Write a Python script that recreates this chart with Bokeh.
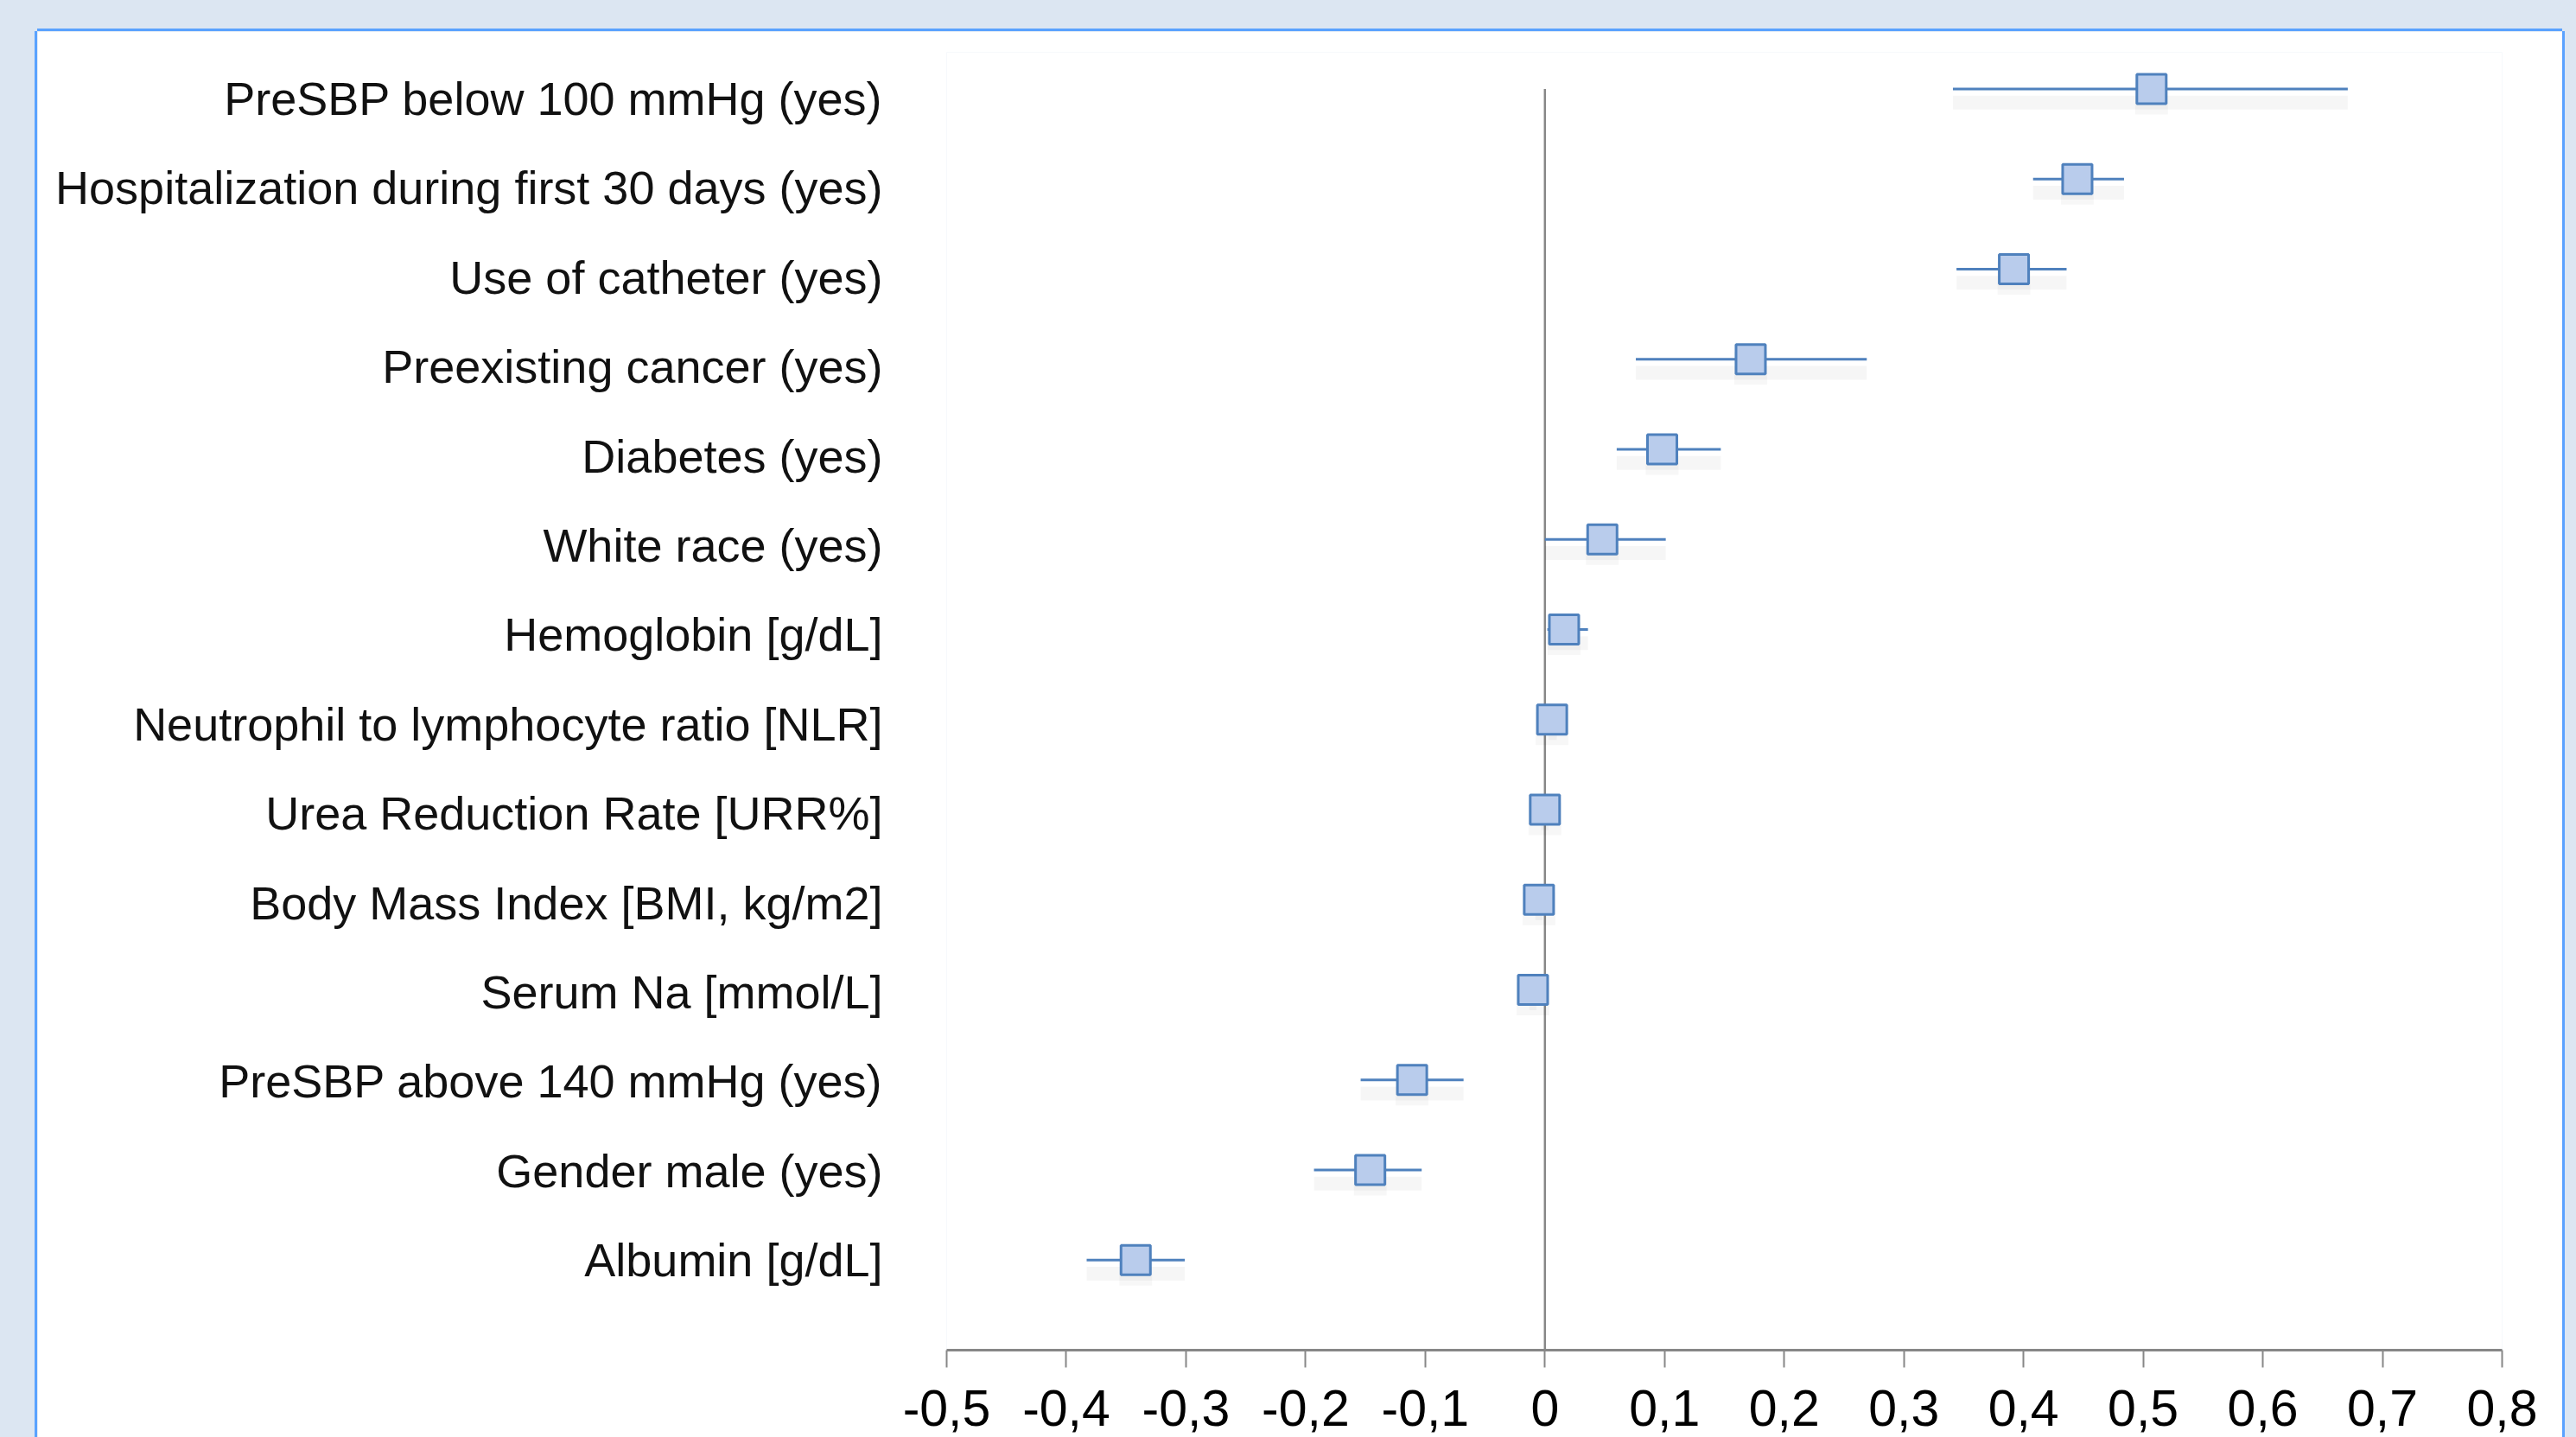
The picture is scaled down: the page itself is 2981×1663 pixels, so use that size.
from bokeh.plotting import figure
from bokeh.models import Range1d, FixedTicker
from bokeh.layouts import column
from bokeh.embed import file_html
from bokeh.resources import INLINE

# ---- data (top row first) ----
categories = [
    "PreSBP below 100 mmHg (yes)",
    "Hospitalization during first 30 days (yes)",
    "Use of catheter (yes)",
    "Preexisting cancer (yes)",
    "Diabetes (yes)",
    "White race (yes)",
    "Hemoglobin [g/dL]",
    "Neutrophil to lymphocyte ratio [NLR]",
    "Urea Reduction Rate [URR%]",
    "Body Mass Index [BMI, kg/m2]",
    "Serum Na [mmol/L]",
    "PreSBP above 140 mmHg (yes)",
    "Gender male (yes)",
    "Albumin [g/dL]",
]
estimate = [0.507, 0.445, 0.392, 0.172, 0.098, 0.048, 0.016, 0.006, 0.000, -0.005, -0.010, -0.111, -0.146, -0.342]
lower = [0.341, 0.408, 0.344, 0.076, 0.060, 0.000, 0.002, 0.003, -0.003, -0.008, -0.013, -0.154, -0.193, -0.383]
upper = [0.671, 0.484, 0.436, 0.269, 0.147, 0.101, 0.036, 0.010, 0.003, -0.002, -0.007, -0.068, -0.103, -0.301]

x_ticks = [-0.5, -0.4, -0.3, -0.2, -0.1, 0.0, 0.1, 0.2, 0.3, 0.4, 0.5, 0.6, 0.7, 0.8]
x_tick_labels = ["-0,5", "-0,4", "-0,3", "-0,2", "-0,1", "0", "0,1", "0,2", "0,3", "0,4", "0,5", "0,6", "0,7", "0,8"]

# ---- layout / style constants ----
FONT = "Liberation Sans"
BLUE = "#4F81BD"
FILL = "#B9CCEC"
GRAY = "#878787"

n = len(categories)
ypos = [n - i for i in range(n)]
# the label column sits on a slightly tighter grid than the markers
label_ticks = [y - 0.105 * (y - 1) / (n - 1) for y in ypos]

y_lo = 0.0
y_hi = 14.408

fig = figure(
    width=2922, height=1627,
    x_range=Range1d(x_ticks[0], x_ticks[-1]),
    y_range=Range1d(y_lo, y_hi),
    output_backend="svg", toolbar_location=None,
    min_border_left=1052, min_border_right=70,
    min_border_top=24, min_border_bottom=101,
)
fig.margin = (36, 16, 0, 43)
fig.styles = {"box-shadow": "-3px 0 0 0 #5AA2FF, 3px 0 0 0 #5AA2FF, 0 -3px 0 0 #5AA2FF"}
fig.background_fill_color = "white"
fig.border_fill_color = "white"
fig.outline_line_color = None
fig.xgrid.visible = False
fig.ygrid.visible = False

# vertical zero line (y axis crossing)
fig.segment(x0=[0], y0=[y_lo], x1=[0], y1=[n], line_color=GRAY, line_width=2.5)

# soft shadows
sh_y = [y - 0.15 for y in ypos]
fig.segment(x0=lower, y0=sh_y, x1=upper, y1=sh_y, line_color="black", line_alpha=0.035, line_width=16)
fig.scatter(x=estimate, y=[y - 0.1 for y in ypos], marker="square", size=38,
            fill_color="black", fill_alpha=0.03, line_color=None)

# confidence intervals
fig.segment(x0=lower, y0=ypos, x1=upper, y1=ypos, line_color=BLUE, line_width=3)
# point estimates
fig.scatter(x=estimate, y=ypos, marker="square", size=34,
            fill_color=FILL, line_color=BLUE, line_width=3)

# x axis
xa = fig.xaxis[0]
xa.ticker = FixedTicker(ticks=x_ticks)
xa.major_label_overrides = dict(zip(x_ticks, x_tick_labels))
xa.axis_line_color = GRAY
xa.axis_line_width = 3
xa.major_tick_line_color = GRAY
xa.major_tick_line_width = 2
xa.major_tick_out = 20
xa.major_tick_in = 0
xa.minor_tick_line_color = None
xa.major_label_text_font = FONT
xa.major_label_text_font_size = "59px"
xa.major_label_text_color = "#000000"
xa.major_label_standoff = 26

# y axis -> category labels
ya = fig.yaxis[0]
ya.ticker = FixedTicker(ticks=label_ticks)
ya.major_label_overrides = dict(zip(label_ticks, categories))
ya.axis_line_color = None
ya.major_tick_line_color = None
ya.minor_tick_line_color = None
ya.major_tick_out = 0
ya.major_tick_in = 0
ya.major_label_standoff = 74
ya.major_label_text_font = FONT
ya.major_label_text_font_size = "54px"
ya.major_label_text_color = "#111111"

p = column(fig, styles={"background-color": "#DCE6F2"})

open("out.html", "w").write(file_html(p, INLINE))
